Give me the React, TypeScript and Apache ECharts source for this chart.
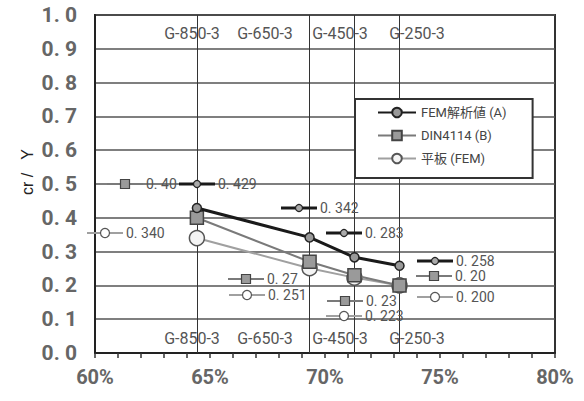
import React, { useEffect, useRef } from 'react';
import * as echarts from 'echarts';

// Data
const xPositions = [64.43, 69.33, 71.28, 73.24]; // percent
const femValues = [0.429, 0.342, 0.283, 0.258];
const dinValues = [0.4, 0.27, 0.23, 0.2];
const plateValues = [0.34, 0.251, 0.223, 0.2];
const seriesNames = ['FEM解析値 (A)', 'DIN4114 (B)', '平板 (FEM)'];
const specimenLabels = ['G-850-3', 'G-650-3', 'G-450-3', 'G-250-3'];
const allValues = [femValues, dinValues, plateValues];
const decimals = [3, 2, 3];

// Layout (pixel positions of the value callouts and specimen labels)
const annotLayout = [
  { s: 0, i: 0, x: 197, y: 184 },
  { s: 0, i: 1, x: 299, y: 208 },
  { s: 0, i: 2, x: 344, y: 233 },
  { s: 0, i: 3, x: 435, y: 261 },
  { s: 1, i: 0, x: 125, y: 184 },
  { s: 1, i: 1, x: 246, y: 279 },
  { s: 1, i: 2, x: 345, y: 301 },
  { s: 1, i: 3, x: 434, y: 276 },
  { s: 2, i: 0, x: 105, y: 233 },
  { s: 2, i: 1, x: 247, y: 295 },
  { s: 2, i: 2, x: 344, y: 316 },
  { s: 2, i: 3, x: 435, y: 297 },
];
const specimenX = [192, 265, 340, 417];

const FONT = 'Roboto, "Noto Sans CJK JP", sans-serif';

const styles = [
  { line: '#1a1a1a', lw: 3, fill: '#999', stroke: '#222', symbol: 'circle', size: 9 },
  { line: '#7a7a7a', lw: 2, fill: '#9a9a9a', stroke: '#444', symbol: 'rect', size: 13 },
  { line: '#a0a0a0', lw: 2, fill: '#f4f4f4', stroke: '#555', symbol: 'circle', size: 15 },
];

function fmt(v: number, d: number) {
  return v.toFixed(d).replace('.', '. ');
}

export default function App() {
  const ref = useRef<HTMLDivElement>(null);
  useEffect(() => {
    document.body.style.margin = '0';
    const chart = echarts.init(ref.current!, undefined, { renderer: 'svg' });

    const graphics: any[] = [];
    annotLayout.forEach((a) => {
      const st = styles[a.s];
      graphics.push({
        type: 'line',
        shape: { x1: a.x - 18, y1: a.y, x2: a.x + 18, y2: a.y },
        style: { stroke: st.line, lineWidth: st.lw },
        z: 10,
      });
      if (st.symbol === 'rect') {
        graphics.push({
          type: 'rect',
          shape: { x: a.x - 4.5, y: a.y - 4.5, width: 9, height: 9 },
          style: { fill: st.fill, stroke: st.stroke, lineWidth: 1.2 },
          z: 11,
        });
      } else {
        graphics.push({
          type: 'circle',
          shape: { cx: a.x, cy: a.y, r: a.s === 0 ? 3.5 : 4.5 },
          style: { fill: a.s === 0 ? '#aaa' : '#fff', stroke: st.stroke, lineWidth: 1.2 },
          z: 11,
        });
      }
      graphics.push({
        type: 'text',
        x: a.x + 21,
        y: a.y,
        style: {
          text: fmt(allValues[a.s][a.i], decimals[a.s]),
          font: `14px ${FONT}`,
          fill: '#555',
          verticalAlign: 'middle',
          align: 'left',
        },
        z: 11,
      });
    });
    specimenLabels.forEach((t, k) => {
      [33, 338].forEach((yy) => {
        graphics.push({
          type: 'text',
          x: specimenX[k],
          y: yy,
          style: {
            text: t,
            font: `16px ${FONT}`,
            fill: '#555',
            align: 'center',
            verticalAlign: 'middle',
          },
          z: 9,
        });
      });
    });
    graphics.push({
      type: 'text',
      x: 27,
      y: 172,
      rotation: Math.PI / 2,
      style: {
        text: 'cr /   Y',
        font: '16px "Liberation Sans", sans-serif',
        fill: '#222',
        align: 'center',
        verticalAlign: 'middle',
      },
    });

    const mkSeries = (k: number, data: number[]) => {
      const st = styles[k];
      const s: any = {
        name: seriesNames[k],
        type: 'line',
        data: xPositions.map((x, i) => [x, data[i]]),
        symbol: st.symbol,
        symbolSize: st.size,
        showAllSymbol: true,
        z: 5 - k,
        lineStyle: { color: st.line, width: st.lw },
        itemStyle: { color: st.fill, borderColor: st.stroke, borderWidth: 1.5 },
      };
      if (k === 0) {
        s.markLine = {
          silent: true,
          symbol: ['none', 'none'],
          label: { show: false },
          lineStyle: { color: '#333', width: 1, type: 'solid' },
          data: xPositions.map((x) => ({ xAxis: x })),
          z: 1,
        };
      }
      return s;
    };

    chart.setOption({
      animation: false,
      backgroundColor: '#fff',
      grid: {
        left: 95,
        right: 29,
        top: 15,
        bottom: 48,
        show: true,
        borderColor: '#333',
        borderWidth: 2,
      },
      legend: {
        show: true,
        left: 355,
        top: 99,
        orient: 'vertical',
        backgroundColor: '#fff',
        borderColor: '#333',
        borderWidth: 2,
        borderRadius: 0,
        padding: [7, 26, 13, 22],
        itemGap: 10,
        itemWidth: 38,
        itemHeight: 12,
        textStyle: { fontSize: 13, color: '#444', fontFamily: FONT },
        data: seriesNames,
        z: 20,
      },
      xAxis: {
        type: 'value',
        min: 60,
        max: 80,
        interval: 5,
        axisLine: { show: true, lineStyle: { color: '#222', width: 2 } },
        axisTick: { show: true, length: 5, lineStyle: { color: '#333', width: 1.5 } },
        minorTick: { show: true, splitNumber: 5, length: 5, lineStyle: { color: '#333', width: 1.5 } },
        splitLine: { show: false },
        axisLabel: {
          formatter: '{value}%',
          margin: 14,
          fontSize: 20,
          fontWeight: 'bold',
          color: '#666',
          fontFamily: FONT,
        },
      },
      yAxis: {
        type: 'value',
        min: 0,
        max: 1,
        interval: 0.1,
        axisLine: { show: true, lineStyle: { color: '#222', width: 2 } },
        axisTick: { show: false },
        splitLine: { show: true, lineStyle: { color: '#555', width: 1.6 } },
        axisLabel: {
          formatter: (v: number) => fmt(v, 1),
          margin: 18,
          fontSize: 21,
          fontWeight: 'bold',
          color: '#666',
          fontFamily: FONT,
        },
      },
      series: [mkSeries(0, femValues), mkSeries(1, dinValues), mkSeries(2, plateValues)],
      graphic: graphics,
    });
    return () => chart.dispose();
  }, []);
  return <div ref={ref} style={{ width: 584, height: 401 }} />;
}
